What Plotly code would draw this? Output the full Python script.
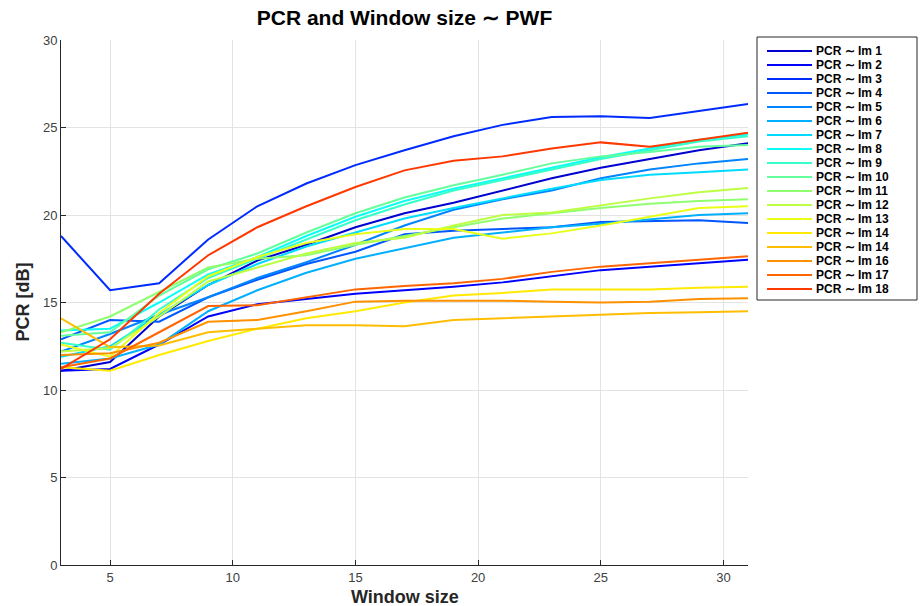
import plotly.graph_objects as go

# Window sizes (x) shared by all series
window_size = [3, 5, 7, 9, 11, 13, 15, 17, 19, 21, 23, 25, 27, 29, 31]

series_names = [
    "PCR \u223c Im 1", "PCR \u223c Im 2", "PCR \u223c Im 3", "PCR \u223c Im 4",
    "PCR \u223c Im 5", "PCR \u223c Im 6", "PCR \u223c Im 7", "PCR \u223c Im 8",
    "PCR \u223c Im 9", "PCR \u223c Im 10", "PCR \u223c Im 11", "PCR \u223c Im 12",
    "PCR \u223c Im 13", "PCR \u223c Im 14", "PCR \u223c Im 14", "PCR \u223c Im 16",
    "PCR \u223c Im 17", "PCR \u223c Im 18",
]

pcr_im1 = [11.1, 11.6, 14.2, 16.0, 17.4, 18.3, 19.3, 20.1, 20.7, 21.4, 22.1, 22.7, 23.2, 23.7, 24.1]
pcr_im2 = [11.1, 11.2, 12.6, 14.2, 14.9, 15.2, 15.5, 15.7, 15.9, 16.15, 16.5, 16.85, 17.05, 17.25, 17.45]
pcr_im3 = [18.8, 15.7, 16.1, 18.6, 20.5, 21.8, 22.85, 23.7, 24.5, 25.15, 25.6, 25.65, 25.55, 25.95, 26.35]
pcr_im4 = [12.9, 14.0, 13.9, 15.3, 16.3, 17.2, 17.9, 18.9, 19.1, 19.2, 19.3, 19.6, 19.65, 19.7, 19.55]
pcr_im5 = [12.2, 13.2, 14.3, 15.3, 16.4, 17.3, 18.3, 19.4, 20.3, 20.9, 21.4, 22.1, 22.6, 22.95, 23.2]
pcr_im6 = [11.5, 11.8, 12.6, 14.5, 15.7, 16.7, 17.5, 18.1, 18.7, 19.0, 19.3, 19.5, 19.75, 20.0, 20.1]
pcr_im7 = [11.9, 12.5, 14.3, 16.0, 17.2, 18.2, 19.0, 19.8, 20.4, 20.95, 21.5, 22.0, 22.3, 22.45, 22.6]
pcr_im8 = [13.4, 13.5, 15.0, 16.6, 17.6, 18.8, 19.9, 20.8, 21.5, 22.1, 22.7, 23.3, 23.8, 24.3, 24.6]
pcr_im9 = [12.7, 12.3, 14.6, 16.4, 17.5, 18.6, 19.7, 20.6, 21.4, 22.0, 22.6, 23.2, 23.7, 24.2, 24.5]
pcr_im10 = [13.1, 13.3, 15.4, 16.9, 17.8, 19.0, 20.1, 21.0, 21.7, 22.3, 22.95, 23.35, 23.6, 23.9, 24.0]
pcr_im11 = [13.3, 14.2, 15.6, 17.0, 17.5, 17.7, 18.3, 18.8, 19.3, 19.8, 20.1, 20.4, 20.65, 20.8, 20.9]
pcr_im12 = [12.2, 12.4, 14.2, 16.2, 17.0, 17.8, 18.4, 18.7, 19.4, 20.0, 20.15, 20.55, 20.95, 21.3, 21.55]
pcr_im13 = [12.6, 11.9, 14.4, 16.5, 17.6, 18.4, 18.9, 19.2, 19.2, 18.65, 18.95, 19.4, 19.9, 20.4, 20.5]
pcr_im14 = [11.3, 11.1, 12.0, 12.8, 13.5, 14.1, 14.5, 15.0, 15.4, 15.55, 15.75, 15.75, 15.75, 15.85, 15.9]
pcr_im15 = [14.1, 12.45, 12.55, 13.3, 13.5, 13.7, 13.7, 13.65, 14.0, 14.1, 14.2, 14.3, 14.4, 14.45, 14.5]
pcr_im16 = [12.0, 12.1, 12.7, 13.9, 14.0, 14.5, 15.05, 15.1, 15.1, 15.1, 15.05, 15.0, 15.05, 15.2, 15.25]
pcr_im17 = [11.3, 11.8, 13.3, 14.8, 14.85, 15.3, 15.75, 15.95, 16.1, 16.35, 16.75, 17.05, 17.25, 17.45, 17.65]
pcr_im18 = [11.2, 12.9, 15.5, 17.7, 19.3, 20.5, 21.6, 22.55, 23.1, 23.35, 23.8, 24.15, 23.9, 24.3, 24.7]

all_series = [pcr_im1, pcr_im2, pcr_im3, pcr_im4, pcr_im5, pcr_im6, pcr_im7, pcr_im8, pcr_im9,
              pcr_im10, pcr_im11, pcr_im12, pcr_im13, pcr_im14, pcr_im15, pcr_im16, pcr_im17, pcr_im18]


def jet(t):
    """Jet colormap value at t in [0, 1] as an rgb() string."""
    def clip(v):
        return max(0.0, min(1.0, v))
    r = clip(1.5 - abs(4 * t - 3))
    g = clip(1.5 - abs(4 * t - 2))
    b = clip(1.5 - abs(4 * t - 1))
    return "rgb(%d,%d,%d)" % (round(r * 255), round(g * 255), round(b * 255))


n = len(all_series)
colors = [jet(0.08 + i * (0.82 - 0.08) / (n - 1)) for i in range(n)]

fig = go.Figure()
for name, ys, col in zip(series_names, all_series, colors):
    fig.add_trace(go.Scatter(x=window_size, y=ys, mode="lines", name=name,
                             line=dict(color=col, width=2), showlegend=False))

# Plot-area geometry in pixels (used for the hand-built legend box)
W, H = 921, 606
L, R, T, B = 61, 748, 40, 565
pw, ph = R - L, B - T


def px_x(p):
    return (p - L) / pw


def px_y(p):
    return (B - p) / ph


shapes = []
annotations = []

# Legend frame with one sample line and label per series
shapes.append(dict(type="rect", xref="paper", yref="paper",
                   x0=px_x(757), x1=px_x(917), y0=px_y(300), y1=px_y(37),
                   line=dict(color="#262626", width=1), fillcolor="white", layer="above"))
row0, row_gap = 51, 14
for i, (name, col) in enumerate(zip(series_names, colors)):
    yy = px_y(row0 + i * row_gap)
    shapes.append(dict(type="line", xref="paper", yref="paper",
                       x0=px_x(767), x1=px_x(812), y0=yy, y1=yy,
                       line=dict(color=col, width=2), layer="above"))
    annotations.append(dict(x=px_x(815), y=yy, xref="paper", yref="paper",
                            text="<b>%s</b>" % name, showarrow=False,
                            xanchor="left", yanchor="middle", borderpad=0,
                            font=dict(family="Liberation Sans, Arial, sans-serif",
                                      size=12, color="#000000")))

# Axis titles
annotations.append(dict(x=0.5, y=px_y(597), xref="paper", yref="paper",
                        text="<b>Window size</b>", showarrow=False,
                        xanchor="center", yanchor="middle",
                        font=dict(family="Liberation Sans, Arial",
                                  size=18, color="#262626")))
annotations.append(dict(x=px_x(22), y=0.5, xref="paper", yref="paper",
                        text="<b>PCR [dB]</b>", showarrow=False, textangle=-90,
                        xanchor="center", yanchor="middle",
                        font=dict(family="Liberation Sans, Arial",
                                  size=18, color="#262626")))

fig.update_layout(
    width=W, height=H,
    margin=dict(l=L, r=W - R, t=T, b=H - B),
    paper_bgcolor="white", plot_bgcolor="white",
    title=dict(text="<b>PCR and Window size \u223c PWF</b>",
               x=0.5, xref="paper", y=1 - 18 / H, yref="container",
               xanchor="center", yanchor="middle",
               font=dict(family="Liberation Sans, Arial",
                         size=21, color="#000000")),
    xaxis=dict(range=[3, 31], tickvals=[5, 10, 15, 20, 25, 30],
               showgrid=True, gridcolor="#e3e3e3", gridwidth=1,
               showline=True, linecolor="#262626", linewidth=1,
               ticks="inside", ticklen=5, tickcolor="#262626",
               tickfont=dict(family="Liberation Sans, Arial",
                             size=13, color="#404040"),
               zeroline=False),
    yaxis=dict(range=[0, 30], tickvals=[0, 5, 10, 15, 20, 25, 30],
               showgrid=True, gridcolor="#e3e3e3", gridwidth=1,
               showline=True, linecolor="#262626", linewidth=1,
               ticks="inside", ticklen=5, tickcolor="#262626",
               tickfont=dict(family="Liberation Sans, Arial",
                             size=13, color="#404040"),
               zeroline=False),
    shapes=shapes,
    annotations=annotations,
)

fig.write_html("out.html")
